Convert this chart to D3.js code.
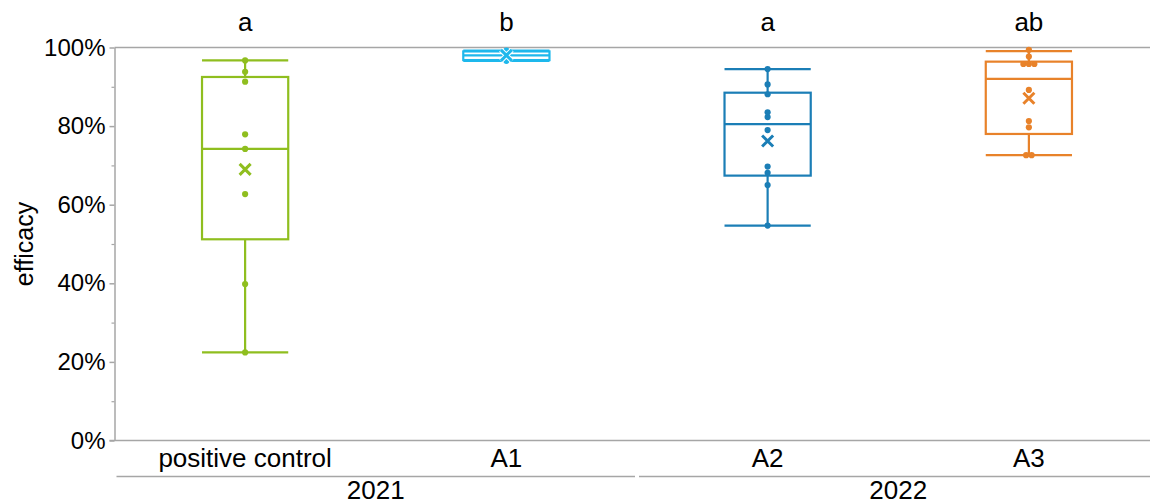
<!DOCTYPE html>
<html>
<head>
<meta charset="utf-8">
<script src="https://cdn.jsdelivr.net/npm/d3@7"></script>
<style>
  html, body { margin: 0; padding: 0; background: #fff; }
  svg { display: block; font-family: "Liberation Sans", Arial, sans-serif; }
</style>
</head>
<body>
<svg id="chart" width="1150" height="504"></svg>
<script>
// ---- data (values in %) ----
const categories = ["positive control", "A1", "A2", "A3"];
const years = ["2021", "2021", "2022", "2022"];
const groupNames = ["2021", "2022"];
const letters = ["a", "b", "a", "ab"];
const colors = ["#8FBE1F", "#1EB8EC", "#1B7EB6", "#E8822A"];

const whiskerMin = [22.4, 96.6, 54.7, 72.6];
const q1 = [51.2, 96.8, 67.4, 78.0];
const median = [74.2, 98.0, 80.5, 92.0];
const q3 = [92.5, 99.0, 88.5, 96.4];
const whiskerMax = [96.7, 99.2, 94.5, 99.1];
const mean = [69.0, 98.0, 76.2, 87.1];

const pointsPC = [96.7, 93.8, 91.3, 77.9, 74.2, 62.7, 39.8, 22.4];
const pointsA1 = [99.2, 98.9, 98.5, 98.0, 97.6, 97.2, 96.6];
const pointsA2 = [94.5, 90.6, 88.1, 83.5, 82.3, 79.0, 69.7, 68.1, 65.0, 54.7];
const pointsA3 = [99.4, 97.7, 95.8, 95.8, 95.8, 89.2, 81.3, 79.7, 72.6, 72.6];
const points = [pointsPC, pointsA1, pointsA2, pointsA3];

const yTicks = [0, 20, 40, 60, 80, 100];
const yMinorTicks = [10, 30, 50, 70, 90];

// ---- layout ----
const svg = d3.select("#chart");
const axisColor = "#A6A6A6";
const x = d3.scaleBand().domain(categories).range([114.5, 1159.5]);
const y = d3.scaleLinear().domain([0, 100]).range([440.5, 47.5]);
const boxW = x.bandwidth() * 0.33;

// top border line
svg.append("line")
  .attr("x1", x.range()[0]).attr("x2", 1150)
  .attr("y1", y(100)).attr("y2", y(100))
  .attr("stroke", axisColor).attr("stroke-width", 1.5);

// y axis
const yAxis = svg.append("g").attr("transform", `translate(${x.range()[0]},0)`)
  .call(d3.axisLeft(y).tickValues(yTicks).tickSize(5).tickSizeOuter(0).tickPadding(4)
    .tickFormat(d => d + "%"));
yAxis.select(".domain").attr("stroke", axisColor).attr("stroke-width", 1.5);
yAxis.selectAll(".tick line").attr("stroke", axisColor).attr("stroke-width", 1.5);
yAxis.selectAll(".tick text").attr("font-size", 24).attr("fill", "#000")
  .attr("font-family", "'Liberation Sans', Arial, sans-serif");
const yMinor = svg.append("g").attr("transform", `translate(${x.range()[0]},0)`)
  .call(d3.axisLeft(y).tickValues(yMinorTicks).tickSize(3).tickFormat(""));
yMinor.select(".domain").remove();
yMinor.selectAll(".tick line").attr("stroke", axisColor).attr("stroke-width", 1.2);

// x axis line
svg.append("line")
  .attr("x1", x.range()[0] - 5).attr("x2", 1150)
  .attr("y1", y(0)).attr("y2", y(0))
  .attr("stroke", axisColor).attr("stroke-width", 1.5);

// category labels
svg.append("g").selectAll("text").data(categories).join("text")
  .attr("x", d => x(d) + x.bandwidth() / 2)
  .attr("y", 467)
  .attr("text-anchor", "middle")
  .attr("font-size", 26)
  .attr("fill", "#000")
  .text(d => d);

// group lines + labels
const groupExtent = groupNames.map(g => {
  const cats = categories.filter((c, i) => years[i] === g);
  return [x(cats[0]), x(cats[cats.length - 1]) + x.bandwidth()];
});
svg.append("g").selectAll("line").data(groupExtent).join("line")
  .attr("x1", d => d[0] + 2).attr("x2", d => d[1] - 2)
  .attr("y1", 476.5).attr("y2", 476.5)
  .attr("stroke", axisColor).attr("stroke-width", 1.5);
svg.append("g").selectAll("text").data(groupNames).join("text")
  .attr("x", (d, i) => (groupExtent[i][0] + groupExtent[i][1]) / 2)
  .attr("y", 499)
  .attr("text-anchor", "middle")
  .attr("font-size", 26)
  .attr("fill", "#000")
  .text(d => d);

// y axis title
svg.append("text")
  .attr("transform", `translate(33,${(y(0) + y(100)) / 2}) rotate(-90)`)
  .attr("text-anchor", "middle")
  .attr("font-size", 25)
  .attr("fill", "#000")
  .text("efficacy");

// significance letters
svg.append("g").selectAll("text").data(letters).join("text")
  .attr("x", (d, i) => x(categories[i]) + x.bandwidth() / 2)
  .attr("y", 31)
  .attr("text-anchor", "middle")
  .attr("font-size", 26)
  .attr("fill", "#000")
  .text(d => d);

// boxes
categories.forEach((cat, i) => {
  const g = svg.append("g");
  const cx = x(cat) + x.bandwidth() / 2;
  const col = colors[i];
  const sw = 2.2;
  // whisker stems
  g.append("line").attr("x1", cx).attr("x2", cx)
    .attr("y1", y(q3[i])).attr("y2", y(whiskerMax[i]))
    .attr("stroke", col).attr("stroke-width", sw);
  g.append("line").attr("x1", cx).attr("x2", cx)
    .attr("y1", y(q1[i])).attr("y2", y(whiskerMin[i]))
    .attr("stroke", col).attr("stroke-width", sw);
  // whisker caps
  [whiskerMax[i], whiskerMin[i]].forEach(v => {
    g.append("line").attr("x1", cx - boxW / 2).attr("x2", cx + boxW / 2)
      .attr("y1", y(v)).attr("y2", y(v))
      .attr("stroke", col).attr("stroke-width", sw);
  });
  // box
  g.append("rect")
    .attr("x", cx - boxW / 2).attr("width", boxW)
    .attr("y", y(q3[i])).attr("height", y(q1[i]) - y(q3[i]))
    .attr("fill", "none").attr("stroke", col).attr("stroke-width", sw);
  // median
  g.append("line").attr("x1", cx - boxW / 2).attr("x2", cx + boxW / 2)
    .attr("y1", y(median[i])).attr("y2", y(median[i]))
    .attr("stroke", col).attr("stroke-width", sw);
  // points, duplicates spread horizontally
  const counts = d3.rollup(points[i], v => v.length, d => d);
  const seen = new Map();
  points[i].forEach(v => {
    const n = counts.get(v);
    const k = seen.get(v) || 0;
    seen.set(v, k + 1);
    const off = (k - (n - 1) / 2) * 5.5;
    g.append("circle").attr("cx", cx + off).attr("cy", y(v)).attr("r", 3.1)
      .attr("fill", col);
  });
  // mean marker (x)
  const s = 5.5;
  const my = y(mean[i]);
  const path = `M${cx - s},${my - s}L${cx + s},${my + s}M${cx - s},${my + s}L${cx + s},${my - s}`;
  g.append("path").attr("d", path).attr("stroke", "#fff").attr("stroke-width", 5)
    .attr("fill", "none");
  g.append("path").attr("d", path).attr("stroke", col).attr("stroke-width", 3)
    .attr("fill", "none");
});
</script>
</body>
</html>
